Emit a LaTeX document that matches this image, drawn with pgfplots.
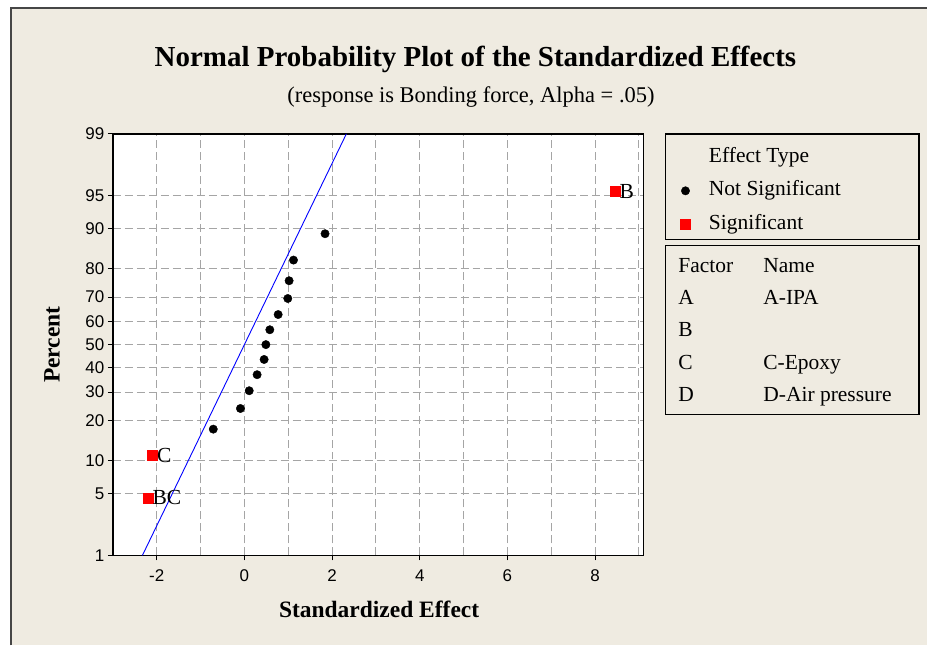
\documentclass[border=0pt]{standalone}
\usepackage{fontspec}
\setmainfont{Liberation Serif}
\newfontfamily\sansf{Liberation Sans}
\usepackage{pgfplots}
\pgfplotsset{compat=1.18}
\definecolor{bgbeige}{RGB}{239,235,225}
\definecolor{framegray}{RGB}{70,70,70}
\definecolor{gridgray}{RGB}{165,165,165}
\definecolor{sigred}{RGB}{255,0,0}
\newcommand{\fs}[1]{\fontsize{#1}{#1}\selectfont}
\pgfplotstableread{
x z
-0.71 -0.933
-0.09 -0.705
0.11 -0.509
0.29 -0.332
0.45 -0.164
0.49 0
0.58 0.164
0.77 0.332
0.99 0.509
1.02 0.705
1.12 0.933
1.84 1.224
}\notsig
\pgfplotstableread{
x z label
-2.20 -1.690 BC
-2.10 -1.224 C
8.45 1.690 B
}\sig
\begin{document}
\begin{tikzpicture}[x=1bp,y=1bp]
\fill[white] (0,0) rectangle (928,646);
\fill[bgbeige] (11,0) rectangle (928,638);
\draw[framegray, line width=2bp] (11,0) -- (11,638) -- (928,638);
\begin{axis}[
  at={(113bp,90bp)}, anchor=south west, scale only axis,
  width=531bp, height=422bp,
  xmin=-3, xmax=9.1, ymin=-2.3263, ymax=2.3263,
  axis background/.style={fill=white},
  xtick={-2,0,2,4,6,8}, xticklabels={-2,0,2,4,6,8},
  minor xtick={-3,-1,1,3,5,7,9},
  ytick={-2.3263,-1.6449,-1.2816,-0.8416,-0.5244,-0.2533,0,0.2533,0.5244,0.8416,1.2816,1.6449,2.3263},
  yticklabels={1,5,10,20,30,40,50,60,70,80,90,95,99},
  xtick pos=left, ytick pos=left,
  tick align=outside,
  major tick length=5bp, minor tick length=0pt,
  grid=both,
  major grid style={gridgray, dash pattern=on 8bp off 4bp, line width=0.9bp},
  minor grid style={gridgray, dash pattern=on 8bp off 4bp, line width=0.9bp},
  axis line style={line width=1.6bp, black},
  tick style={black, line width=1bp},
  ticklabel style={font=\sansf\fs{17bp}},
  xticklabel style={yshift=-6bp},
  clip=false,
  legend style={at={(1.0631,0.966)}, anchor=north west, draw=none, fill=none,
    inner sep=0pt, row sep=15.5bp, column sep=18.5bp,
    font=\fs{21.5bp},
    nodes={inner sep=0pt, text height=14bp, text depth=4bp}},
  legend cell align=left,
]
\addlegendimage{empty legend}
\addlegendentry{Effect Type}
\addplot[blue, line width=0.9bp, forget plot] coordinates {(-2.3263,-2.3263) (2.3263,2.3263)};
\addplot[only marks, mark=*, mark size=4.2bp, black] table[x=x, y=z] {\notsig};
\addlegendentry{Not Significant}
\addplot[only marks, mark=square*, mark size=5bp, sigred,
  nodes near coords, point meta=explicit symbolic,
  nodes near coords style={anchor=west, xshift=4.5bp, inner sep=0pt, black, font=\fs{21.5bp}}]
  table[x=x, y=z, meta=label] {\sig};
\addlegendentry{Significant}
\end{axis}
% titles and labels
\node[font=\bfseries\fs{29bp}] at (476,586) {Normal Probability Plot of the Standardized Effects};
\node[font=\fs{22.5bp}] at (471.5,549) {(response is Bonding force, Alpha = .05)};
\node[font=\bfseries\fs{23.5bp}, rotate=90] at (52,301) {Percent};
\node[font=\bfseries\fs{23.5bp}] at (379.5,36) {Standardized Effect};
% legend frames
\draw[black, line width=1.4bp] (666,406) rectangle (920,512);
\draw[black, line width=1.4bp] (666,231) rectangle (920,400);
\begin{scope}[every node/.style={anchor=base west, inner sep=0pt, font=\fs{21.5bp}}]
\node at (679,373.3) {Factor};
\node at (764,373.3) {Name};
\node at (679,341) {A};
\node at (764,341) {A-IPA};
\node at (679,308.8) {B};
\node at (679,276.5) {C};
\node at (764,276.5) {C-Epoxy};
\node at (679,244.3) {D};
\node at (764,244.3) {D-Air pressure};
\end{scope}
\end{tikzpicture}
\end{document}
